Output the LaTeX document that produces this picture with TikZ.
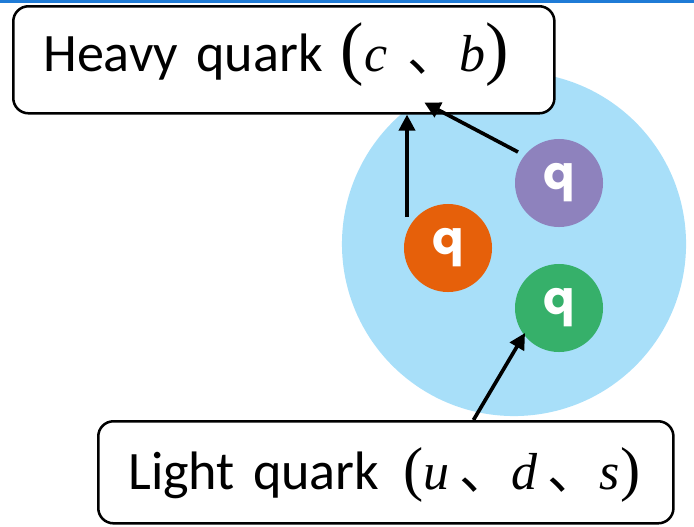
\documentclass[tikz,border=0pt]{standalone}
\usepackage{fontspec}
\setmainfont{Carlito}
\newfontfamily\serifit{Liberation Serif}
\newfontfamily\cjk{Noto Sans CJK SC}
\newfontfamily\qfont{Poppins}
\usepackage{xcolor}
\usetikzlibrary{calc,positioning,arrows.meta}
\definecolor{topbar}{HTML}{1F7BD6}
\definecolor{hadronfill}{HTML}{A8DFF9}
\definecolor{quarkorange}{HTML}{E6600A}
\definecolor{quarkpurple}{HTML}{8E82BD}
\definecolor{quarkgreen}{HTML}{36B06A}
\newcommand{\flav}[1]{{\serifit\fontsize{37}{44}\selectfont #1}}
\newcommand{\bigparen}[2]{{\fontsize{#1}{#1}\selectfont #2}}

\begin{document}
\begin{tikzpicture}[
  x=0.025cm,
  y=-0.025cm,
  pointer/.style={
    draw=black,
    line width=2.6pt,
    -{Triangle[length=4mm,width=4mm]}
  },
  hadron/.style={
    circle,
    fill=hadronfill,
    minimum size=8.6cm,
    inner sep=0pt
  },
  quark/.style={
    circle,
    minimum size=2.2cm,
    inner sep=0pt,
    text=white,
    font=\qfont\bfseries\fontsize{33}{33}\selectfont
  },
  labelbox/.style={
    draw=black,
    fill=white,
    rounded corners=3.8mm,
    line width=1.8pt,
    align=left,
    anchor=north west,
    inner xsep=7.5mm,
    inner ysep=0pt,
    font=\fontsize{38.5}{46}\selectfont
  }
]

\path[use as bounding box] (0,0) rectangle (694,526);
\fill[topbar] (0,0) rectangle (694,3);

% Hadron
\node[hadron] (hadron) at (514,244) {};

% Quarks
\node[quark, fill=quarkorange] (qorange) at (448,248) {q};
\node[quark, fill=quarkpurple] (qpurple) at (559,183) {q};
\node[quark, fill=quarkgreen]  (qgreen)  at (559,308) {q};

% Labels
\node[labelbox, text width=12.025cm, text height=1.625cm, text depth=1.05cm] (heavy) at (12,5)
  {\mbox{Heavy quark \flav{\bigparen{50}{(}\textit{c}\hspace{5mm}{\cjk 、}\textit{b}\bigparen{50}{)}}}};
\node[labelbox, text width=12.875cm, text height=1.7cm, text depth=0.85cm] (light) at (97,420)
  {\mbox{Light quark\hspace{1.5mm} \flav{\bigparen{43}{(}\textit{u}\hspace{2.5mm}{\cjk 、}\textit{d}\hspace{2.5mm}{\cjk 、}\textit{s}\bigparen{43}{)}}}};

% Pointers
\coordinate (ofoot) at ($(qorange)+(-41,-31)$);
\coordinate (pfoot) at ($(qpurple)+(-41,-31)$);
\coordinate (gtip)  at ($(qgreen)+(-34,25)$);
\draw[pointer] (ofoot) -- (ofoot |- heavy.south);
\draw[pointer] (pfoot) -- ($(heavy.south)+(140.5,-12)$);
\draw[pointer] ([xshift=2.19cm]light.north) -- (gtip);

\end{tikzpicture}
\end{document}
